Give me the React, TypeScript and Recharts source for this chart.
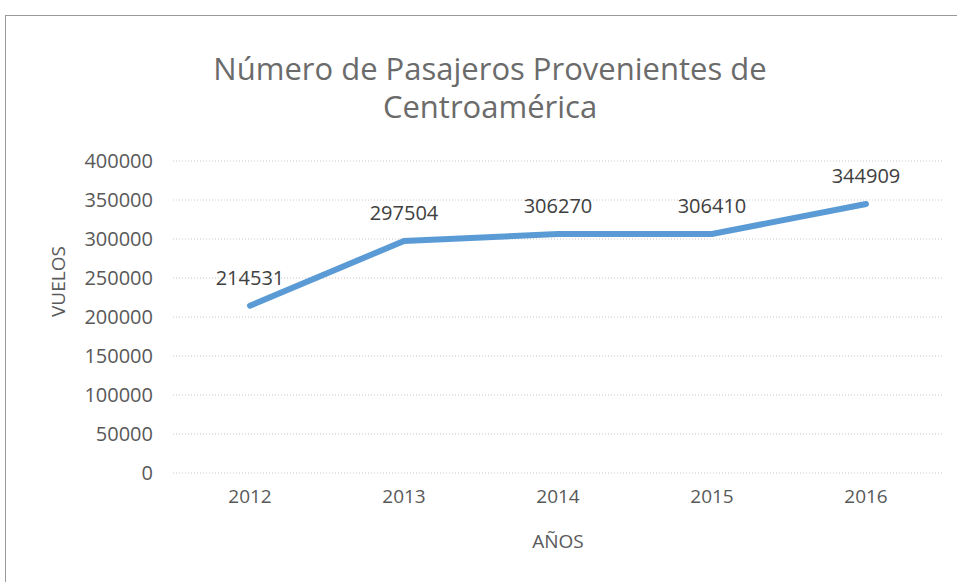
import { CartesianGrid, LabelList, Line, LineChart, XAxis, YAxis } from 'recharts';

const years = ['2012', '2013', '2014', '2015', '2016'];
const pasajeros = [214531, 297504, 306270, 306410, 344909];
const yTicks = [0, 50000, 100000, 150000, 200000, 250000, 300000, 350000, 400000];

const chartData = years.map((y, i) => ({ year: y, value: pasajeros[i] }));

const font = '"Open Sans", "Noto Sans", sans-serif';
const ink = '#595959';

export default function App() {
  return (
    <div style={{ position: 'absolute', left: 0, top: 0, width: 957, height: 582, background: '#fff', overflow: 'hidden', fontFamily: font }}>
      {/* frame of the Excel chart, bottom/right run off the page */}
      <div style={{ position: 'absolute', left: 5, top: 15, width: 1000, height: 600, borderLeft: '1px solid #9a9a9a', borderTop: '1px solid #9a9a9a' }} />
      <div style={{ position: 'absolute', left: 0, top: 49, width: 980, textAlign: 'center', fontSize: 31, lineHeight: '38px', color: '#6b6b6b' }}>
        Número de Pasajeros Provenientes de
        <br />
        Centroamérica
      </div>
      <div style={{ position: 'absolute', left: 0, top: 0 }}>
        <LineChart width={957} height={582} data={chartData} margin={{ top: 161, right: 14, bottom: 79, left: 83 }}>
          <CartesianGrid vertical={false} stroke="#c8c8c8" strokeDasharray="1 2" />
          <XAxis
            dataKey="year"
            padding={{ left: 77, right: 77 }}
            axisLine={false}
            tickLine={false}
            tickSize={0}
            tickMargin={17}
            height={30}
            tick={{ fill: ink, fontSize: 19, fontFamily: font }}
            label={{ value: 'AÑOS', position: 'insideBottom', offset: -45, fill: ink, fontSize: 19, fontFamily: font }}
          />
          <YAxis
            domain={[0, 400000]}
            ticks={yTicks}
            interval={0}
            width={90}
            axisLine={false}
            tickLine={false}
            tickSize={0}
            tickMargin={20}
            tick={{ fill: ink, fontSize: 20, fontFamily: font }}
            label={{ value: 'VUELOS', angle: -90, position: 'insideLeft', offset: -25, fill: ink, fontSize: 19, fontFamily: font }}
          />
          <Line
            type="linear"
            dataKey="value"
            stroke="#5b9bd5"
            strokeWidth={6}
            strokeLinecap="round"
            dot={false}
            activeDot={false}
            isAnimationActive={false}
          >
            <LabelList dataKey="value" position="top" offset={21} fill="#404040" fontSize={20} fontFamily={font} />
          </Line>
        </LineChart>
      </div>
    </div>
  );
}
